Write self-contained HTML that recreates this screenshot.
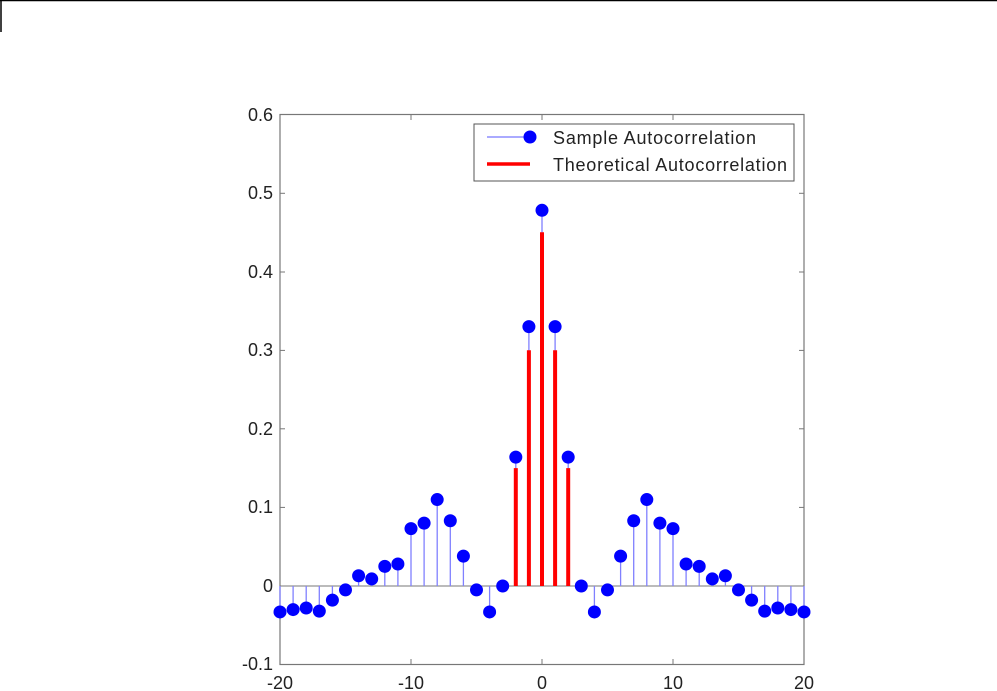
<!DOCTYPE html>
<html><head><meta charset="utf-8"><style>
html,body{margin:0;padding:0;background:#fff;}
svg{display:block;}
text{font-family:"Liberation Sans",Arial,sans-serif;font-size:18px;fill:#222;}
</style></head><body>
<svg width="997" height="691" viewBox="0 0 997 691" xmlns="http://www.w3.org/2000/svg">
<line x1="0" y1="0.5" x2="997" y2="0.5" stroke="#000" stroke-width="1.5"/>
<line x1="1" y1="0" x2="1" y2="32" stroke="#000" stroke-width="1.5"/>
<rect x="280" y="114.5" width="524" height="550" fill="none" stroke="#777" stroke-width="1.2"/>
<g stroke="#777" stroke-width="1">
<line x1="280" y1="586" x2="804" y2="586"/>
<line x1="411" y1="664.5" x2="411" y2="659"/><line x1="542" y1="664.5" x2="542" y2="659"/><line x1="673" y1="664.5" x2="673" y2="659"/>
<line x1="411" y1="114.5" x2="411" y2="120"/><line x1="542" y1="114.5" x2="542" y2="120"/><line x1="673" y1="114.5" x2="673" y2="120"/>
<line x1="280" y1="193.3" x2="285" y2="193.3"/><line x1="280" y1="272" x2="285" y2="272"/><line x1="280" y1="350.4" x2="285" y2="350.4"/><line x1="280" y1="428.8" x2="285" y2="428.8"/><line x1="280" y1="507.4" x2="285" y2="507.4"/>
<line x1="804" y1="193.3" x2="799" y2="193.3"/><line x1="804" y1="272" x2="799" y2="272"/><line x1="804" y1="350.4" x2="799" y2="350.4"/><line x1="804" y1="428.8" x2="799" y2="428.8"/><line x1="804" y1="507.4" x2="799" y2="507.4"/>
</g>
<g text-anchor="end">
<text x="273" y="121">0.6</text><text x="273" y="199">0.5</text><text x="273" y="278">0.4</text><text x="273" y="356">0.3</text><text x="273" y="435">0.2</text><text x="273" y="513">0.1</text><text x="273" y="592">0</text><text x="273" y="670">-0.1</text>
</g>
<g text-anchor="middle">
<text x="280" y="689">-20</text><text x="411" y="689">-10</text><text x="542" y="689">0</text><text x="673" y="689">10</text><text x="804" y="689">20</text>
</g>
<g id="s"></g>
<rect x="474" y="124" width="320" height="57" fill="#fff" stroke="#555" stroke-width="1"/>
<line x1="487" y1="137" x2="530" y2="137" stroke="#5555ff" stroke-width="1"/>
<circle cx="530" cy="137" r="6.5" fill="#0000ff"/>
<line x1="487" y1="164" x2="530" y2="164" stroke="#ff0000" stroke-width="3.5"/>
<text x="553" y="144" textLength="203">Sample Autocorrelation</text>
<text x="553" y="171" textLength="234">Theoretical Autocorrelation</text>
</svg>
<script>
var v=[-0.033,-0.03,-0.028,-0.032,-0.018,-0.005,0.013,0.009,0.025,0.028,0.073,0.08,0.11,0.083,0.038,-0.005,-0.033,0,0.164,0.33,0.478];
var vals=v.concat(v.slice(0,20).reverse());
var g=document.getElementById('s'),h='';
function X(k){return 542+13.1*k;}function Y(a){return 586-786*a;}
for(var i=0;i<41;i++){var k=i-20,x=X(k);h+='<line x1="'+x+'" y1="586" x2="'+x+'" y2="'+Y(vals[i])+'" stroke="#8080ff" stroke-width="1.3"/>';}
var th={'-2':0.15,'-1':0.3,'0':0.45,'1':0.3,'2':0.15};
for(var k=-2;k<=2;k++){h+='<line x1="'+X(k)+'" y1="586" x2="'+X(k)+'" y2="'+Y(th[k])+'" stroke="#ff0000" stroke-width="4"/>';}
for(var i=0;i<41;i++){h+='<circle cx="'+X(i-20)+'" cy="'+Y(vals[i])+'" r="6.5" fill="#0000ff"/>';}
g.innerHTML=h;
</script>
</body></html>
